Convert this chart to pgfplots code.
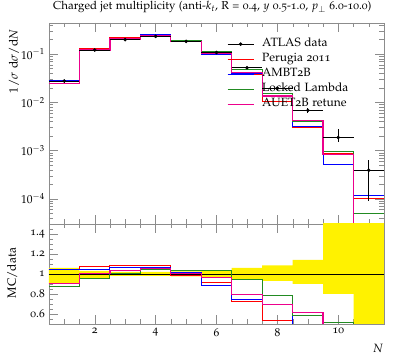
\documentclass[border=0pt]{standalone}
\usepackage[T1]{fontenc}
\usepackage[osf]{mathpazo}
\usepackage{pgfplots}
\pgfplotsset{compat=1.18}
\definecolor{dgreen}{RGB}{34,139,34}
\definecolor{axgray}{RGB}{140,140,140}

\begin{document}
\fontsize{12}{14}\selectfont
\begin{tikzpicture}
\useasboundingbox (0,0) rectangle (397pt,358pt);
\pgfplotsset{
  common/.style={
    scale only axis, width=335pt, xmin=0.5, xmax=11.5,
    axis line style={axgray}, tick style={axgray},
    major tick length=9pt, minor tick length=4.5pt,
    xtick={2,4,6,8,10}, minor xtick={0.5,1,...,11.5},
    tick align=inside, tick pos=both,
    every tick label/.append style={font=\fontsize{11.5}{13}\selectfont},
    label style={font=\fontsize{12}{14}\selectfont},
  },
  hist/.style={const plot mark left, line width=1pt, forget plot},
}
% ---------------- main panel ----------------
\begin{axis}[common, at={(49pt,134pt)}, anchor=south west, height=201pt,
  ymode=log, ymin=3e-5, ymax=0.44,
  xticklabels={},
  ytick={1e-4,1e-3,1e-2,1e-1},
  yticklabels={$10^{-4}$,$10^{-3}$,$10^{-2}$,$10^{-1}$},
  minor ytick={3e-5,4e-5,5e-5,6e-5,7e-5,8e-5,9e-5,2e-4,3e-4,4e-4,5e-4,6e-4,7e-4,8e-4,9e-4,2e-3,3e-3,4e-3,5e-3,6e-3,7e-3,8e-3,9e-3,2e-2,3e-2,4e-2,5e-2,6e-2,7e-2,8e-2,9e-2,2e-1,3e-1,4e-1},
  title={Charged jet multiplicity (anti-$k_t$, R = 0.4, $y$ 0.5-1.0, $p_\perp$ 6.0-10.0)},
  title style={at={(0,1)}, anchor=base west, yshift=7pt, font=\fontsize{11.5}{13}\selectfont},
  ylabel={$1/\sigma\;\mathrm{d}\sigma/\mathrm{d}N$},
  ylabel style={at={(axis description cs:-0.1045,0.99)}, anchor=east},
  legend style={at={(axis description cs:0.531,0.933)}, anchor=north west,
    draw=none, fill=none, inner sep=0pt, row sep=0pt, column sep=8pt,
    nodes={inner sep=0pt, text height=10pt, text depth=5pt},
    font=\fontsize{12}{14}\selectfont},
  legend cell align=left,
]
% Perugia 2011
\addplot[hist, red] coordinates {(0.5,0.0287) (1.5,0.1296) (2.5,0.2154) (3.5,0.2519) (4.5,0.1803) (5.5,0.0985) (6.5,0.0374) (7.5,0.01037) (8.5,0.00299) (9.5,0.000856) (10.5,0.000101) (11.5,0.000101)};
% AMBT2B
\addplot[hist, blue] coordinates {(0.5,0.0289) (1.5,0.1267) (2.5,0.2107) (3.5,0.2486) (4.5,0.1861) (5.5,0.0960) (6.5,0.0387) (7.5,0.01353) (8.5,0.0032) (9.5,0.00052) (10.5,0.000117) (11.5,0.000117)};
% Locked Lambda
\addplot[hist, dgreen] coordinates {(0.5,0.02407) (1.5,0.1157) (2.5,0.198) (3.5,0.2440) (4.5,0.1892) (5.5,0.1112) (6.5,0.0489) (7.5,0.01537) (8.5,0.00396) (9.5,0.000958) (10.5,0.0000507) (11.5,0.0000507)};
% AUET2B retune
\addplot[hist, magenta, line width=1.2pt] coordinates {(0.5,0.0249) (1.5,0.1218) (2.5,0.2047) (3.5,0.2463) (4.5,0.1843) (5.5,0.1040) (6.5,0.0415) (7.5,0.01353) (8.5,0.00419) (9.5,0.000837) (10.5,0.000001) (11.5,0.000001)};
% ATLAS data
\addplot[black, only marks, mark=*, mark size=1.6pt, forget plot,
  error bars/.cd, x dir=both, x explicit, y dir=both, y explicit,
  error bar style={black, line width=0.8pt}, error mark=none]
coordinates {
(1,0.0276) += (0.5,0.0017) -= (0.5,0.0028)
(2,0.121) += (0.5,0.0036) -= (0.5,0.0048)
(3,0.198) += (0.5,0.004) -= (0.5,0.004)
(4,0.233) += (0.5,0.0047) -= (0.5,0.0047)
(5,0.183) += (0.5,0.0046) -= (0.5,0.0046)
(6,0.108) += (0.5,0.0032) -= (0.5,0.0032)
(7,0.052) += (0.5,0.0031) -= (0.5,0.0031)
(8,0.0195) += (0.5,0.0017) -= (0.5,0.0014)
(9,0.0068) += (0.5,0.00095) -= (0.5,0.00068)
(10,0.00186) += (0.5,0.00094) -= (0.5,0.00037)
(11,0.00039) += (0.5,0.00026) -= (0.5,0.0003)
};
\addlegendimage{legend image code/.code={\draw[black, line width=0.8pt] (0pt,0pt)--(26pt,0pt); \fill[black] (13pt,0pt) circle (1.6pt);}}
\addlegendentry{ATLAS data}
\addlegendimage{legend image code/.code={\draw[red, line width=1pt] (0pt,0pt)--(26pt,0pt);}}
\addlegendentry{Perugia 2011}
\addlegendimage{legend image code/.code={\draw[blue, line width=1pt] (0pt,0pt)--(26pt,0pt);}}
\addlegendentry{AMBT2B}
\addlegendimage{legend image code/.code={\draw[dgreen, line width=1pt] (0pt,0pt)--(26pt,0pt);}}
\addlegendentry{Locked Lambda}
\addlegendimage{legend image code/.code={\draw[magenta, line width=1pt] (0pt,0pt)--(26pt,0pt);}}
\addlegendentry{AUET2B retune}
\end{axis}
% ---------------- ratio panel ----------------
\begin{axis}[common, at={(49pt,34pt)}, anchor=south west, height=100pt,
  ymin=0.5, ymax=1.5,
  ytick={0.6,0.8,1,1.2,1.4},
  minor ytick={0.5,0.55,0.65,0.7,0.75,0.85,0.9,0.95,1.05,1.1,1.15,1.25,1.3,1.35,1.45,1.5},
  /pgf/number format/assume math mode=true,
  xlabel={$N$}, xlabel style={at={(axis description cs:0.982,-0.24)}, anchor=center},
  ylabel={MC/data}, ylabel style={at={(axis description cs:-0.11,0.51)}, anchor=center},
]
% data uncertainty band: upper edges left to right, then lower edges right to left
\addplot[fill=yellow, draw=none, forget plot] coordinates {
(0.5,1.06) (1.5,1.06) (1.5,1.03) (2.5,1.03) (2.5,1.02) (3.5,1.02) (3.5,1.02) (4.5,1.02)
(4.5,1.025) (5.5,1.025) (5.5,1.03) (6.5,1.03) (6.5,1.06) (7.5,1.06) (7.5,1.085) (8.5,1.085)
(8.5,1.14) (9.5,1.14) (9.5,1.6) (10.5,1.6) (10.5,1.7) (11.5,1.7)
(11.5,0.2) (10.5,0.2) (10.5,0.80) (9.5,0.80) (9.5,0.90) (8.5,0.90) (8.5,0.93) (7.5,0.93)
(7.5,0.94) (6.5,0.94) (6.5,0.97) (5.5,0.97) (5.5,0.975) (4.5,0.975) (4.5,0.98) (3.5,0.98)
(3.5,0.98) (2.5,0.98) (2.5,0.96) (1.5,0.96) (1.5,0.90) (0.5,0.90)
} -- cycle;
\addplot[black, line width=0.6pt, forget plot] coordinates {(0.5,1) (11.5,1)};
\addplot[hist, red] coordinates {(0.5,1.04) (1.5,1.071) (2.5,1.088) (3.5,1.081) (4.5,0.985) (5.5,0.912) (6.5,0.72) (7.5,0.532) (8.5,0.44) (9.5,0.46) (10.5,0.26) (11.5,0.26)};
\addplot[hist, blue] coordinates {(0.5,1.047) (1.5,1.047) (2.5,1.064) (3.5,1.067) (4.5,1.017) (5.5,0.889) (6.5,0.744) (7.5,0.694) (8.5,0.47) (9.5,0.28) (10.5,0.30) (11.5,0.30)};
\addplot[hist, dgreen] coordinates {(0.5,0.872) (1.5,0.956) (2.5,1.0) (3.5,1.047) (4.5,1.034) (5.5,1.03) (6.5,0.94) (7.5,0.788) (8.5,0.582) (9.5,0.515) (10.5,0.13) (11.5,0.13)};
\addplot[hist, magenta, line width=1.2pt] coordinates {(0.5,0.902) (1.5,1.007) (2.5,1.034) (3.5,1.057) (4.5,1.007) (5.5,0.963) (6.5,0.798) (7.5,0.694) (8.5,0.616) (9.5,0.45) (10.5,0.05) (11.5,0.05)};
\end{axis}
\end{tikzpicture}
\end{document}
